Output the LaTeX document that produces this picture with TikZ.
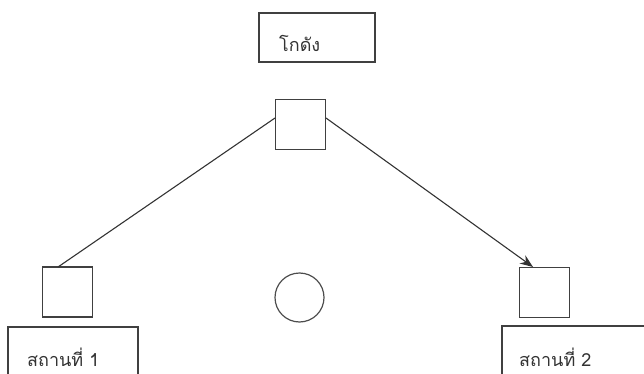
\documentclass[tikz,border=0pt]{standalone}
\usepackage{fontspec}
\newfontfamily\thaifont[Script=Thai]{Loma}
\usetikzlibrary{arrows.meta}
\begin{document}
\begin{tikzpicture}[x=1pt,y=-1pt,
  sq/.style={draw=black!75,line width=1.2pt,minimum width=50pt,minimum height=50pt,inner sep=0pt},
  lbl/.style={font=\thaifont\fontsize{18}{21}\selectfont,text=black!80,inner sep=0pt},
  link/.style={draw=black!80,line width=1.1pt}]
\useasboundingbox (0,0) rectangle (644,374);
\clip (0,0) rectangle (644,374);
% label boxes
\draw[black!75,line width=1.2pt] (259,13) rectangle (375,62);
\draw[black!75,line width=1.2pt] (8,327) rectangle (138,390);
\draw[black!75,line width=1.2pt] (502,326) rectangle (660,390);
\node[lbl,anchor=west] (tw) at (279,43) {โกดัง};
\node[lbl,anchor=west] (l1) at (27,357) {สถานที่ 1};
\node[lbl,anchor=west] (l2) at (519,357) {สถานที่ 2};
% squares
\node[sq] (top) at (300.5,124.5) {};
\node[sq] (left) at (67.5,292) {};
\node[sq] (right) at (544.5,292.5) {};
\node[draw=black!70,line width=1.2pt,circle,minimum size=49pt,inner sep=0pt] (c) at (299.5,297.5) {};
\coordinate (a1) at (275,118);
\coordinate (a2) at (58,267);
\coordinate (b1) at (326,118);
\coordinate (b2) at (533,267);
\draw[link] (a1) -- (a2);
\draw[link,-{Stealth[length=13pt,width=10pt]}] (b1) -- (b2);
\end{tikzpicture}
\end{document}
